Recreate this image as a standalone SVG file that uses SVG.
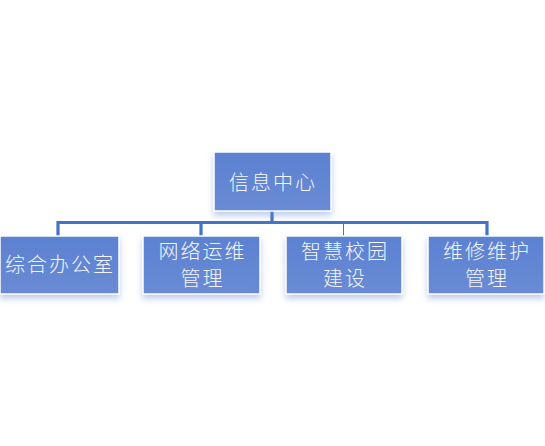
<svg xmlns="http://www.w3.org/2000/svg" width="545" height="446" viewBox="0 0 545 446">
<defs>
<filter id="sh" x="-20%" y="-20%" width="140%" height="160%">
<feDropShadow dx="0" dy="4" stdDeviation="3" flood-color="#6f8fd6" flood-opacity="0.45"/>
</filter>
<linearGradient id="g" x1="0" y1="0" x2="0" y2="1">
<stop offset="0" stop-color="#5b81d2"/>
<stop offset="1" stop-color="#6a8bd4"/>
</linearGradient>
</defs>
<style>
.box{fill:url(#g);stroke:#ffffff;stroke-width:1.5;filter:url(#sh)}
.t{font-family:"Noto Sans CJK SC","Noto Sans CJK JP",sans-serif;font-weight:300;fill:#f4f6fc;text-anchor:middle;dominant-baseline:central;letter-spacing:2px}
.c{stroke:#4472c4;fill:none}
</style>
<rect width="545" height="446" fill="#ffffff"/>
<g id="connectors">
<path class="c" d="M272 211V222.5M58 236V222.5H487V236M201 222.5V236" stroke-width="3.2"/>
<path class="c" d="M343.5 222.5V236" stroke-width="1" stroke="#6f8bc8"/>
</g>
<g id="n0">
<rect class="box" x="214" y="152" width="117" height="59"/>
<text class="t" x="273" y="181.5" font-size="20">信息中心</text>
</g>
<g id="n1">
<rect class="box" x="0" y="236" width="119" height="58"/>
<text class="t" x="60" y="263" font-size="20">综合办公室</text>
</g>
<g id="n2">
<rect class="box" x="143" y="236" width="117" height="58"/>
<text class="t" x="202.5" y="250" font-size="20">网络运维</text>
<text class="t" x="202.5" y="277" font-size="20">管理</text>
</g>
<g id="n3">
<rect class="box" x="286" y="236" width="116" height="58"/>
<text class="t" x="345" y="250" font-size="20">智慧校园</text>
<text class="t" x="345" y="277" font-size="20">建设</text>
</g>
<g id="n4">
<rect class="box" x="428" y="236" width="116" height="58"/>
<text class="t" x="487" y="250" font-size="20">维修维护</text>
<text class="t" x="487" y="277" font-size="20">管理</text>
</g>
</svg>
